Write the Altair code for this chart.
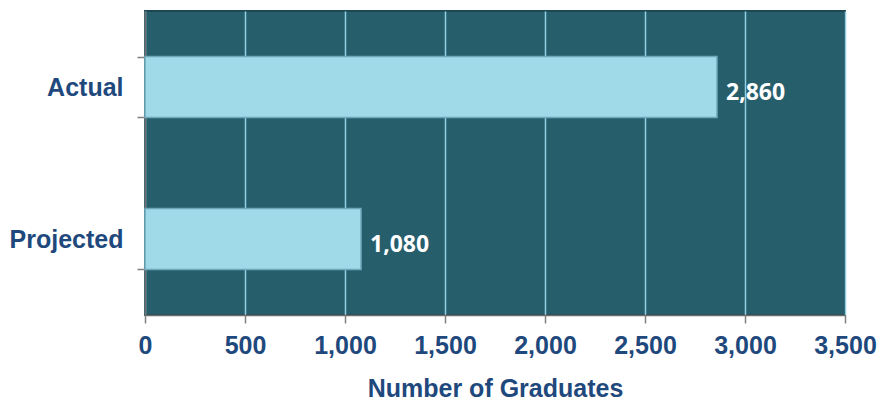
import altair as alt
import pandas as pd

categories = ["Actual", "Projected"]
values = [2860, 1080]
value_labels = ["2,860", "1,080"]
tick_values = [0, 500, 1000, 1500, 2000, 2500, 3000, 3500]

df = pd.DataFrame({"category": categories, "value": values, "label": value_labels})

LABEL_BLUE = "#1f497d"
BG = "#275e6c"
BAR = "#a0d9e8"
GRID = "#8fd0e2"

x_enc = alt.X(
    "value:Q",
    scale=alt.Scale(domain=[0, 3500], nice=False),
    axis=alt.Axis(
        values=tick_values,
        format=",d",
        title="Number of Graduates",
        grid=True,
        gridColor=GRID,
        gridWidth=1.5,
        domainColor="#6e6e6e",
        domainWidth=1.5,
        tickColor="#808080",
        tickWidth=1.5,
        tickSize=8,
        labelFlush=False,
        labelFont="Liberation Sans",
        labelFontWeight="bold",
        labelFontSize=25,
        labelColor=LABEL_BLUE,
        labelPadding=10,
        titleFont="Liberation Sans",
        titleFontWeight="bold",
        titleFontSize=25,
        titleColor=LABEL_BLUE,
        titlePadding=18,
    ),
)

y_enc = alt.Y(
    "category:N",
    sort=categories,
    scale=alt.Scale(paddingInner=0.6, paddingOuter=0.3),
    axis=alt.Axis(
        title=None,
        grid=False,
        tickBand="extent",
        domainColor="#6e6e6e",
        domainWidth=1.5,
        tickColor="#808080",
        tickWidth=1.5,
        tickSize=8,
        labelFont="Liberation Sans",
        labelFontWeight="bold",
        labelFontSize=25,
        labelColor=LABEL_BLUE,
        labelPadding=14,
    ),
)

bars = alt.Chart(df).mark_bar(
    color=BAR, stroke="#6fa9b9", strokeWidth=1.5
).encode(x=x_enc, y=y_enc)

text = alt.Chart(df).mark_text(
    align="left", baseline="middle", dx=9, dy=6,
    font="Open Sans", fontWeight="bold", fontSize=23, color="white"
).encode(x=alt.X("value:Q"), y=alt.Y("category:N", sort=categories), text="label:N")

chart = (
    alt.layer(bars, text)
    .properties(
        width=700,
        height=304,
        autosize=alt.AutoSizeParams(type="none"),
        padding={"left": 137, "top": 3, "right": 33, "bottom": 86},
        background="white",
    )
    .configure_view(fill=BG, stroke="#1d4853", strokeWidth=2)
)

chart.save("out.html", embed_options={"renderer": "svg", "actions": False})
